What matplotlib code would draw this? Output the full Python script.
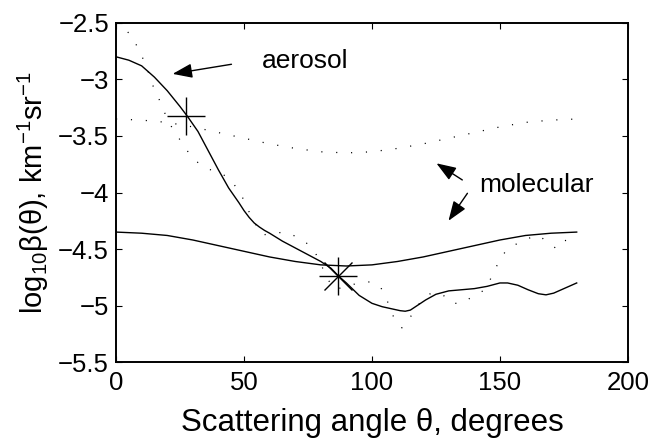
import matplotlib
matplotlib.use('Agg')
import matplotlib.pyplot as plt
import numpy as np

plt.rcParams['font.family'] = ['Liberation Sans', 'DejaVu Sans']
plt.rcParams['mathtext.fontset'] = 'custom'
plt.rcParams['mathtext.rm'] = 'Liberation Sans'
plt.rcParams['mathtext.it'] = 'Liberation Sans:italic'

# aerosol, solid
aer_x = [0, 5, 10, 15, 20, 25, 28, 32, 36, 40, 44, 48, 50, 52, 54, 56, 58, 60,
         65, 70, 75, 80, 84, 87, 90, 95, 100, 104, 108, 111, 113, 115, 117, 121,
         125, 130, 135, 140, 145, 150, 153, 157, 161, 165, 168, 171, 175, 180]
aer_y = [-2.80, -2.83, -2.88, -2.98, -3.10, -3.24, -3.33, -3.46, -3.63, -3.80,
         -3.96, -4.09, -4.16, -4.22, -4.27, -4.305, -4.335, -4.36, -4.43, -4.49,
         -4.55, -4.61, -4.67, -4.74, -4.80, -4.91, -4.98, -5.01, -5.03, -5.045,
         -5.05, -5.04, -5.01, -4.95, -4.90, -4.87, -4.86, -4.85, -4.83, -4.80,
         -4.80, -4.82, -4.86, -4.895, -4.905, -4.89, -4.85, -4.80]

# aerosol, dotted
aerd_x = [0, 2, 5, 7.5, 9.5, 11.5, 13, 14.5, 16.5, 18.5, 20, 22.3, 25, 27.5, 30,
          34, 38, 42.5, 46, 48.6, 50.7, 52.5, 55, 57.2, 61.6, 66.2, 70.4, 74.3,
          77.6, 81.1, 83.1, 85.7, 90, 94.8, 99.3, 103.2, 105.5, 107.1, 108.8,
          111.7, 114.6, 117.2, 119.8, 123.4, 127.8, 131.2, 135.4, 139.2, 143.4,
          146, 147.9, 149.9, 152.5, 156.4, 160.6, 165, 168.6, 172.3, 175.4, 180]
aerd_y = [-2.50, -2.53, -2.59, -2.675, -2.77, -2.86, -2.96, -3.06, -3.16, -3.26,
          -3.36, -3.44, -3.535, -3.62, -3.70, -3.77, -3.81, -3.85, -3.925, -4.01,
          -4.10, -4.20, -4.30, -4.376, -4.36, -4.35, -4.39, -4.444, -4.52, -4.686,
          -4.78, -4.857, -4.83, -4.80, -4.79, -4.83, -4.93, -5.025, -5.12, -5.197,
          -5.115, -5.025, -4.94, -4.886, -4.907, -4.98, -4.98, -4.92, -4.87,
          -4.78, -4.69, -4.597, -4.51, -4.456, -4.41, -4.376, -4.44, -4.50,
          -4.426, -4.40]

# molecular, solid and dotted
mol_x = [0, 10, 20, 30, 40, 50, 60, 70, 80, 90, 100, 110, 120, 130, 140, 150,
         160, 170, 180]
mol_y = [-4.35, -4.36, -4.38, -4.42, -4.47, -4.52, -4.57, -4.61, -4.64, -4.65,
         -4.64, -4.61, -4.57, -4.52, -4.47, -4.42, -4.38, -4.36, -4.35]
mold_y = [-3.35, -3.36, -3.38, -3.42, -3.47, -3.52, -3.57, -3.61, -3.64, -3.65,
          -3.64, -3.61, -3.57, -3.52, -3.47, -3.42, -3.38, -3.36, -3.35]

plus_pt = (27.3, -3.32)
star_pt = (86.9, -4.742)

dots = (0, (0.9, 11))
arrow = dict(arrowstyle='-|>,head_length=0.6,head_width=0.22', color='k',
             lw=1.0, mutation_scale=20, shrinkA=0, shrinkB=0)

fig = plt.figure(figsize=(6.52, 4.4), dpi=100)
ax = fig.add_axes([0.178, 0.177, 0.785, 0.771])

ax.plot(aer_x, aer_y, 'k-', lw=1.0)
ax.plot(aerd_x, aerd_y, color='k', ls=dots, lw=0.9)
ax.plot(mol_x, mol_y, 'k-', lw=1.0)
ax.plot(mol_x, mold_y, color='k', ls=dots, lw=0.9)

ax.plot(*plus_pt, marker='+', ms=28, mew=1.0, color='k')
ax.plot(*star_pt, marker='+', ms=28, mew=1.0, color='k')
ax.plot(*star_pt, marker='x', ms=20, mew=1.0, color='k')

ax.text(56.9, -2.836, 'aerosol', fontsize=19, va='center', ha='left')
ax.annotate('', xy=(22.1, -2.951), xytext=(45.1, -2.866), arrowprops=arrow)
ax.text(141.9, -3.934, 'molecular', fontsize=19, va='center', ha='left')
ax.annotate('', xy=(125.2, -3.742), xytext=(135.3, -3.889), arrowprops=arrow)
ax.annotate('', xy=(129.9, -4.25), xytext=(137.3, -4.007), arrowprops=arrow)

ax.set_xlim(0, 200)
ax.set_ylim(-5.5, -2.5)
ax.set_xticks([0, 50, 100, 150, 200])
ax.set_yticks([-5.5, -5, -4.5, -4, -3.5, -3, -2.5])
ax.set_yticklabels(['\u22125.5', '\u22125', '\u22124.5', '\u22124', '\u22123.5',
                    '\u22123', '\u22122.5'])
ax.tick_params(direction='in', length=4.5, width=0.8, labelsize=18.5,
               top=True, right=True)
ax.tick_params(axis='x', pad=6.5)
ax.tick_params(axis='y', pad=5)
for s in ax.spines.values():
    s.set_linewidth(1.4)

ax.set_xlabel('Scattering angle \u03b8, degrees', fontsize=22.5, labelpad=9.5)
ax.set_ylabel('log$_{10}$\u03b2(\u03b8), km$^{-1}$sr$^{-1}$', fontsize=21,
              labelpad=5)

fig.savefig('out.png', dpi=100)
